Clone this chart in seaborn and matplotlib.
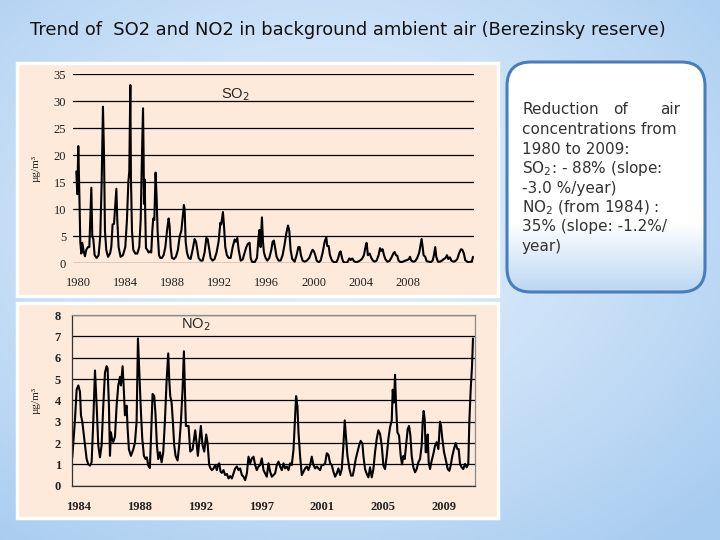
import matplotlib.pyplot as plt
import numpy as np
import pandas as pd
import seaborn as sns
from matplotlib.patches import FancyBboxPatch, Rectangle

TITLE = "Trend of  SO2 and NO2 in background ambient air (Berezinsky reserve)"

# SO2 (x in the panel's axis years)
SO2_YEAR = [
    1979.80, 1979.89, 1979.97, 1980.06, 1980.14, 1980.23, 1980.31, 1980.43, 1980.54, 1980.65,
    1980.79, 1980.91, 1980.99, 1981.08, 1981.16, 1981.25, 1981.36, 1981.53, 1981.70, 1981.84,
    1981.96, 1982.07, 1982.16, 1982.24, 1982.35, 1982.50, 1982.67, 1982.78, 1982.89, 1983.01,
    1983.12, 1983.21, 1983.29, 1983.40, 1983.57, 1983.77, 1983.97, 1984.11, 1984.23, 1984.31,
    1984.40, 1984.45, 1984.54, 1984.65, 1984.82, 1984.99, 1985.16, 1985.28, 1985.39, 1985.48,
    1985.53, 1985.56, 1985.62, 1985.67, 1985.73, 1985.84, 1985.96, 1986.07, 1986.18, 1986.27,
    1986.35, 1986.44, 1986.55, 1986.64, 1986.72, 1986.84, 1986.95, 1987.09, 1987.23, 1987.38,
    1987.52, 1987.66, 1987.74, 1987.83, 1987.94, 1988.11, 1988.28, 1988.45, 1988.60, 1988.74,
    1988.88, 1988.96, 1989.02, 1989.11, 1989.22, 1989.36, 1989.53, 1989.70, 1989.87, 1989.99,
    1990.10, 1990.21, 1990.38, 1990.55, 1990.72, 1990.87, 1990.98, 1991.09, 1991.23, 1991.40,
    1991.57, 1991.74, 1991.91, 1992.06, 1992.14, 1992.28, 1992.37, 1992.48, 1992.62, 1992.77,
    1992.94, 1993.11, 1993.28, 1993.39, 1993.50, 1993.62, 1993.79, 1993.96, 1994.13, 1994.27,
    1994.41, 1994.55, 1994.64, 1994.75, 1994.98, 1995.18, 1995.32, 1995.40, 1995.49, 1995.60,
    1995.69, 1995.77, 1995.91, 1996.06, 1996.23, 1996.40, 1996.51, 1996.62, 1996.71, 1996.85,
    1997.02, 1997.19, 1997.36, 1997.53, 1997.67, 1997.82, 1997.93, 1998.04, 1998.18, 1998.38,
    1998.55, 1998.70, 1998.81, 1998.92, 1999.06, 1999.23, 1999.43, 1999.63, 1999.80, 1999.91,
    2000.03, 2000.14, 2000.26, 2000.43, 2000.60, 2000.77, 2000.94, 2001.08, 2001.16, 2001.28,
    2001.39, 2001.56, 2001.73, 2001.93, 2002.07, 2002.21, 2002.30, 2002.41, 2002.52, 2002.70,
    2002.87, 2003.04, 2003.15, 2003.29, 2003.43, 2003.60, 2003.77, 2003.94, 2004.11, 2004.28,
    2004.43, 2004.51, 2004.62, 2004.77, 2004.91, 2005.05, 2005.19, 2005.36, 2005.53, 2005.65,
    2005.76, 2005.87, 2005.99, 2006.10, 2006.27, 2006.44, 2006.61, 2006.78, 2006.89, 2007.01,
    2007.12, 2007.23, 2007.40, 2007.60, 2007.80, 2007.97, 2008.11, 2008.20, 2008.31, 2008.48,
    2008.65, 2008.82, 2008.99, 2009.11, 2009.19, 2009.28, 2009.36, 2009.50, 2009.62, 2009.79,
    2009.96, 2010.13, 2010.24, 2010.35, 2010.44, 2010.58, 2010.75, 2010.92, 2011.09, 2011.23,
    2011.35, 2011.46, 2011.60, 2011.72, 2011.89, 2012.06, 2012.23, 2012.37, 2012.54, 2012.66,
    2012.79, 2012.90, 2013.07, 2013.19, 2013.36, 2013.47, 2013.56,
]
SO2_VALUE = [
    17, 12.8, 21.7, 13, 4, 1.8, 3.8, 2.2, 1.3, 2.5,
    3, 3, 8, 14, 5, 4.5, 1.5, 1, 1.5, 5,
    15, 29, 20, 6, 2.5, 1.2, 1.8, 3, 7.2, 7.3,
    11, 13.8, 8, 3, 1.2, 1.5, 3, 8, 15, 17,
    33, 16, 6, 2.5, 1.8, 1.8, 3, 8, 20, 28.7,
    20, 11, 15.5, 9, 2.8, 2.5, 2, 2.2, 2, 6,
    8.3, 8, 16.8, 12, 6, 1.5, 1, 1, 1.5, 3,
    6, 8.3, 7, 3, 1, 0.8, 1.2, 2.5, 5, 6,
    9, 10.8, 10, 4, 2, 1, 0.8, 2.5, 4.5, 4,
    2.5, 1, 0.5, 0.5, 2, 4.7, 4.5, 3, 1, 0.5,
    0.8, 2, 4, 7.5, 7.2, 9.5, 7, 3, 1.5, 1,
    1, 3, 4.4, 4, 4.7, 2.5, 0.5, 0.7, 2, 3,
    3.6, 3.8, 1, 0.3, 0.2, 1, 5, 6.2, 3, 8.5,
    4, 2, 1, 0.5, 1, 2.5, 4, 4.2, 3, 1.2,
    0.5, 0.5, 1.5, 3.5, 5.5, 7, 6, 2.5, 0.8, 0.3,
    1.5, 3, 3, 1.5, 0.5, 0.3, 0.5, 1, 2, 2.5,
    2.2, 1.5, 0.5, 0.2, 0.5, 2, 4, 4.8, 3.2, 3.2,
    1.5, 0.5, 0.2, 0.2, 0.8, 2, 2.2, 1, 0.3, 0.1,
    0.2, 0.9, 0.6, 0.9, 0.4, 0.2, 0.3, 0.5, 0.8, 1.5,
    3.2, 3.8, 1.5, 1.8, 1, 0.5, 0.3, 0.5, 1.5, 2.8,
    2.3, 2.6, 1.5, 0.8, 0.3, 0.4, 1, 1.8, 2.1, 1.5,
    1.4, 0.5, 0.2, 0.3, 0.5, 0.6, 0.8, 1.2, 0.5, 0.3,
    0.4, 1, 2, 3.5, 4.5, 3, 1.5, 1.2, 0.4, 0.3,
    0.2, 0.5, 1.5, 3, 1.2, 0.3, 0.3, 0.5, 0.8, 1,
    1.5, 0.8, 1.1, 0.5, 0.3, 0.4, 0.8, 1.8, 2.6, 2.5,
    1.8, 0.6, 0.3, 0.2, 0.3, 0.3, 1.2,
]
SO2_TICKS = [1980, 1984, 1988, 1992, 1996, 2000, 2004, 2008]

# NO2 (x in units of the spacing between its year labels)
NO2_POS = [
    -0.104, -0.060, -0.033, -0.005, 0.022, 0.038, 0.060, 0.093, 0.131, 0.158,
    0.186, 0.213, 0.240, 0.268, 0.295, 0.322, 0.350, 0.377, 0.404, 0.432,
    0.459, 0.475, 0.497, 0.514, 0.530, 0.546, 0.568, 0.596, 0.623, 0.650,
    0.678, 0.694, 0.721, 0.738, 0.760, 0.787, 0.803, 0.825, 0.858, 0.896,
    0.923, 0.951, 0.973, 0.995, 1.022, 1.044, 1.071, 1.098, 1.120, 1.142,
    1.169, 1.186, 1.213, 1.240, 1.262, 1.284, 1.306, 1.333, 1.361, 1.388,
    1.415, 1.443, 1.470, 1.486, 1.503, 1.525, 1.546, 1.568, 1.590, 1.623,
    1.650, 1.678, 1.705, 1.727, 1.743, 1.760, 1.803, 1.831, 1.869, 1.913,
    1.956, 2.005, 2.033, 2.060, 2.093, 2.115, 2.142, 2.164, 2.186, 2.213,
    2.240, 2.268, 2.284, 2.306, 2.328, 2.350, 2.377, 2.404, 2.432, 2.459,
    2.486, 2.514, 2.541, 2.568, 2.596, 2.623, 2.650, 2.678, 2.705, 2.732,
    2.760, 2.787, 2.814, 2.842, 2.869, 2.896, 2.923, 2.951, 2.978, 3.005,
    3.033, 3.060, 3.087, 3.115, 3.142, 3.169, 3.197, 3.224, 3.251, 3.279,
    3.306, 3.333, 3.361, 3.388, 3.415, 3.443, 3.470, 3.497, 3.525, 3.552,
    3.568, 3.590, 3.607, 3.634, 3.661, 3.689, 3.716, 3.743, 3.770, 3.798,
    3.825, 3.852, 3.880, 3.907, 3.934, 3.962, 3.989, 4.016, 4.044, 4.071,
    4.098, 4.126, 4.153, 4.180, 4.208, 4.235, 4.262, 4.290, 4.317, 4.344,
    4.366, 4.388, 4.410, 4.443, 4.470, 4.497, 4.519, 4.546, 4.574, 4.601,
    4.628, 4.656, 4.672, 4.699, 4.727, 4.754, 4.781, 4.809, 4.836, 4.863,
    4.891, 4.918, 4.945, 4.973, 5.000, 5.027, 5.055, 5.082, 5.109, 5.137,
    5.153, 5.175, 5.191, 5.208, 5.230, 5.257, 5.284, 5.306, 5.328, 5.350,
    5.372, 5.399, 5.421, 5.443, 5.464, 5.492, 5.519, 5.546, 5.574, 5.601,
    5.628, 5.645, 5.661, 5.678, 5.694, 5.710, 5.727, 5.743, 5.765, 5.792,
    5.820, 5.847, 5.874, 5.902, 5.929, 5.945, 5.967, 5.995, 6.027, 6.055,
    6.082, 6.104, 6.131, 6.158, 6.186, 6.213, 6.235, 6.257, 6.284, 6.311,
    6.339, 6.366, 6.393, 6.410, 6.432, 6.454, 6.470,
]
NO2_VALUE = [
    1.33, 3.1, 4.5, 4.7, 4.4, 3.3, 3.0, 2.2, 1.25, 1.0,
    0.94, 1.1, 3.0, 5.4, 3.8, 1.9, 1.33, 1.9, 3.75, 5.3,
    5.6, 5.5, 3.75, 1.4, 2.5, 2.2, 2.05, 2.3, 3.75, 4.7,
    5.1, 4.7, 5.6, 4.7, 3.3, 3.75, 2.7, 1.7, 1.4, 1.7,
    2.0, 3.0, 6.9, 5.3, 3.45, 2.2, 1.4, 1.25, 1.33, 0.94,
    0.83, 2.2, 4.3, 4.2, 3.3, 1.9, 1.25, 1.57, 1.1, 1.57,
    3.0, 4.9, 6.2, 5.0, 4.2, 3.9, 3.0, 1.9, 1.4, 1.18,
    1.9, 3.0, 4.5, 6.3, 4.5, 2.8, 2.8, 1.6, 1.7, 2.6,
    1.4, 2.8, 1.9, 1.6, 2.4, 2.0, 0.97, 0.81, 0.73, 0.81,
    0.97, 0.73, 0.97, 1.05, 0.66, 0.6, 0.73, 0.5, 0.55, 0.34,
    0.45, 0.34, 0.58, 0.81, 0.9, 0.73, 0.81, 0.5, 0.42, 0.26,
    0.58, 1.36, 1.05, 1.28, 1.36, 0.97, 0.73, 0.9, 0.97, 1.28,
    0.73, 0.58, 0.42, 1.05, 0.66, 0.42, 0.5, 0.58, 0.97, 1.13,
    0.9, 0.73, 1.05, 0.81, 0.9, 0.73, 1.05, 0.97, 1.68, 3.25,
    4.2, 3.7, 2.5, 1.36, 0.5, 0.66, 0.81, 0.9, 0.73, 0.97,
    1.36, 0.97, 0.81, 0.9, 0.81, 0.73, 0.97, 0.97, 1.05, 1.52,
    1.45, 1.05, 0.97, 0.66, 0.42, 0.58, 0.81, 0.5, 0.78, 1.9,
    3.06, 2.2, 1.4, 0.78, 0.47, 0.47, 0.78, 1.25, 1.57, 1.88,
    2.1, 1.97, 1.4, 0.78, 0.55, 0.39, 0.86, 0.39, 0.78, 1.57,
    2.2, 2.6, 2.43, 1.88, 0.94, 0.78, 1.4, 2.2, 2.74, 3.06,
    4.5, 3.9, 5.2, 3.76, 2.5, 2.35, 1.4, 1.0, 1.4, 1.25,
    1.88, 2.66, 2.8, 2.35, 1.4, 0.86, 0.63, 0.78, 1.1, 1.25,
    1.88, 3.0, 3.5, 3.1, 1.57, 1.57, 2.4, 1.1, 0.78, 1.17,
    1.49, 1.88, 2.04, 1.72, 3.0, 2.82, 2.2, 1.57, 1.17, 0.78,
    0.7, 0.94, 1.4, 1.72, 2.0, 1.72, 1.72, 1.02, 0.86, 0.78,
    1.02, 0.86, 1.02, 3.0, 4.5, 5.6, 6.9,
]
NO2_TICK_LABELS = ["1984", "1988", "1992", "1997", "2001", "2005", "2009"]

NOTE_FIRST_LINE = ["Reduction", "of", "air"]
NOTE_LINES = [
    "concentrations from",
    "1980 to 2009:",
    "SO$_2$: - 88% (slope:",
    "-3.0 %/year)",
    "NO$_2$ (from 1984) :",
    "35% (slope: -1.2%/",
    "year)",
]

W, H = 720, 540
PANEL_FILL = "#FDEADA"
SERIF = "Liberation Serif"


def fig_rect(x0, y0, x1, y1):
    # pixel box (top-left origin) -> figure fraction [left, bottom, width, height]
    return [x0 / W, 1 - y1 / H, (x1 - x0) / W, (y1 - y0) / H]


def fx(x):
    return x / W


def fy(y):
    return 1 - y / H


sns.set_theme(style="white")
plt.rcParams["font.family"] = ["DejaVu Sans"]

fig = plt.figure(figsize=(7.2, 5.4), dpi=100)

# light blue slide background, brighter towards the middle
bg = fig.add_axes([0, 0, 1, 1], zorder=-10)
yy, xx = np.mgrid[0:1:240j, 0:1:320j]
r = np.clip(np.sqrt(((xx - 0.45) / 0.75) ** 2 + ((yy - 0.42) / 0.75) ** 2), 0, 1)
edge = np.array([168, 204, 240]) / 255
centre = np.array([226, 239, 252]) / 255
img = centre + (edge - centre) * r[..., None] ** 1.3
bg.imshow(img, extent=[0, 1, 0, 1], aspect="auto")
bg.axis("off")

# peach chart panels with a white frame
for x0, y0, x1, y1 in [(17, 63, 498, 296), (17, 303, 498, 518)]:
    fig.patches.append(
        Rectangle(
            (fx(x0), fy(y1)), (x1 - x0) / W, (y1 - y0) / H,
            transform=fig.transFigure, facecolor=PANEL_FILL,
            edgecolor="white", lw=2.5, zorder=-5,
        )
    )

fig.text(fx(30), fy(30), TITLE, fontsize=12.9, color="#111111", va="center", ha="left")

# SO2 panel
ax1 = fig.add_axes(fig_rect(73, 74.3, 474, 263.3))
ax1.patch.set_alpha(0)
sns.lineplot(x=SO2_YEAR, y=SO2_VALUE, ax=ax1, color="black", lw=1.5,
             sort=False, estimator=None)
ax1.set_xlim(1979.52, 2013.65)
ax1.set_ylim(0, 35)
ax1.set_yticks(range(0, 36, 5))
ax1.set_yticklabels([str(v) for v in range(0, 36, 5)], family=SERIF, fontsize=9)
ax1.set_xticks(SO2_TICKS)
ax1.set_xticklabels([str(v) for v in SO2_TICKS], family=SERIF, fontsize=9)
ax1.yaxis.grid(True, color="black", lw=0.9)
ax1.set_axisbelow(True)
for s in ax1.spines.values():
    s.set_visible(False)
ax1.tick_params(axis="both", length=0, colors="#222222")
ax1.tick_params(axis="x", pad=10)
ax1.tick_params(axis="y", pad=5)
ax1.set_ylabel("µg/m³", family=SERIF, fontsize=8, labelpad=9)
fig.text(fx(235), fy(95), "SO$_2$", family="Liberation Sans", fontsize=10.5,
         ha="center", va="center")

# NO2 panel
ax2 = fig.add_axes(fig_rect(72, 315, 475, 485.7))
ax2.patch.set_alpha(0)
sns.lineplot(x=NO2_POS, y=NO2_VALUE, ax=ax2, color="black", lw=1.5,
             sort=False, estimator=None)
ax2.set_xlim(-0.109, 6.503)
ax2.set_ylim(0, 8)
ax2.set_yticks(range(0, 9))
ax2.set_yticklabels([str(v) for v in range(0, 9)], family=SERIF, fontsize=9,
                    fontweight="bold")
ax2.set_xticks(range(len(NO2_TICK_LABELS)))
ax2.set_xticklabels(NO2_TICK_LABELS, family=SERIF, fontsize=9, fontweight="bold")
ax2.yaxis.grid(True, color="black", lw=0.9)
ax2.set_axisbelow(True)
for name, s in ax2.spines.items():
    s.set_color("#8a8a8a" if name in ("top", "right") else "#333333")
    s.set_linewidth(0.9)
ax2.tick_params(axis="both", length=0, colors="#222222")
ax2.tick_params(axis="x", pad=11)
ax2.tick_params(axis="y", pad=8)
ax2.set_ylabel("µg/m³", family=SERIF, fontsize=8, labelpad=10)
fig.text(fx(196), fy(325), "NO$_2$", family="Liberation Sans", fontsize=10.5,
         ha="center", va="center")

# rounded note box on the right
ax3 = fig.add_axes(fig_rect(505, 60, 707, 294))
ax3.set_xlim(0, 202)
ax3.set_ylim(0, 234)
ax3.axis("off")
box = FancyBboxPatch((2, 2), 198, 230, boxstyle="round,pad=0,rounding_size=24",
                     facecolor="none", edgecolor="#4A7EBB", lw=2.2, zorder=3)
ax3.add_patch(box)
gy = np.linspace(0, 1, 200)[:, None]
fade = np.clip((0.3 - gy) / 0.3, 0, 1)  # row 0 is the bottom with origin="lower"
top_c = np.array([1.0, 1.0, 1.0])
bot_c = np.array([188, 215, 243]) / 255
grad = top_c + (bot_c - top_c) * fade[..., None]
grad = np.repeat(grad, 2, axis=1)
im = ax3.imshow(grad, extent=[2, 200, 2, 232], origin="lower", aspect="auto", zorder=2)
im.set_clip_path(box)

note_kw = dict(fontsize=11, color="#333333", va="center")
fig.text(fx(522), fy(110), NOTE_FIRST_LINE[0], ha="left", **note_kw)
fig.text(fx(620), fy(110), NOTE_FIRST_LINE[1], ha="center", **note_kw)
fig.text(fx(680), fy(110), NOTE_FIRST_LINE[2], ha="right", **note_kw)
for i, line in enumerate(NOTE_LINES):
    fig.text(fx(522), fy(129.5 + 19.5 * i), line, ha="left", **note_kw)

fig.savefig("out.png", dpi=100)
